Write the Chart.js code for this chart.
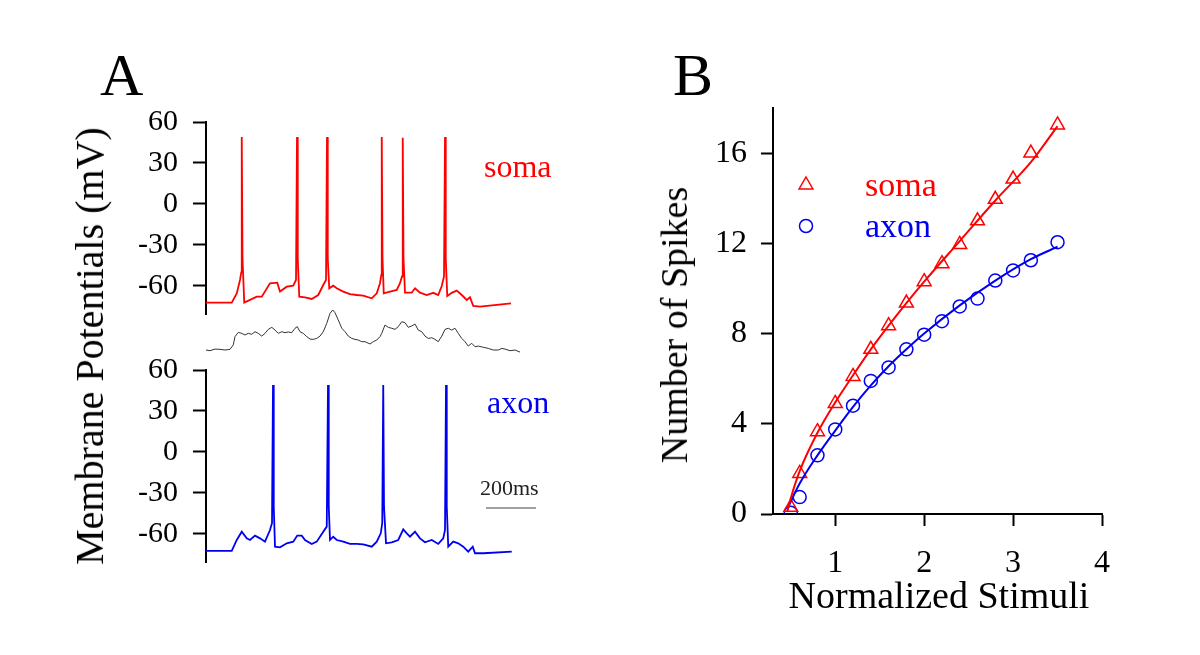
<!DOCTYPE html>
<html lang="en">
<head>
<meta charset="UTF-8">
<title>Soma and axon spikes</title>
<script src="https://cdn.jsdelivr.net/npm/chart.js"></script>
<style>
  body { margin: 0; background: #fff; }
  #page { position: relative; width: 1200px; height: 655px; overflow: hidden; background: #fff;
          font-family: 'Liberation Serif', 'Times New Roman', serif; color: #000; }
  #page canvas { position: absolute; left: 0; top: 0; }
  .lbl { position: absolute; line-height: 1; white-space: nowrap; }
  .rot { transform: translate(-50%, -50%) rotate(-90deg); }
</style>
</head>
<body>
<div id="page">
  <canvas id="somaChart" width="1200" height="655"></canvas>
  <canvas id="noiseChart" width="1200" height="655"></canvas>
  <canvas id="axonChart" width="1200" height="655"></canvas>
  <canvas id="spikeChart" width="1200" height="655"></canvas>

  <div class="lbl" style="left:100px;top:45px;font-size:60px">A</div>
  <div class="lbl" style="left:673px;top:45px;font-size:60px">B</div>
  <div class="lbl rot" style="left:90px;top:346px;font-size:40px">Membrane Potentials (mV)</div>
  <div class="lbl" style="left:484px;top:150px;font-size:32px;color:#ff0000">soma</div>
  <div class="lbl" style="left:487px;top:386px;font-size:32px;color:#0000f0">axon</div>
  <div class="lbl" style="left:480px;top:477px;font-size:22px;color:#222">200ms</div>
  <div class="lbl rot" style="left:674px;top:325px;font-size:38px">Number of Spikes</div>
  <div class="lbl" style="left:939px;top:576px;font-size:38px;transform:translateX(-50%)">Normalized Stimuli</div>
</div>

<script>
// ---- panel A: membrane potential traces (time in ms, potential in mV) ----
const somaTime = [
  0, 103, 123, 136, 141, 143, 146, 153, 176, 203,
  223, 256, 285, 296, 323, 349, 360, 364, 367, 373,
  396, 423, 449, 469, 480, 484, 487, 493, 509, 523,
  549, 576, 603, 629, 663, 683, 696, 701, 703, 706,
  711, 736, 763, 776, 784, 787, 790, 796, 823, 836,
  856, 883, 909, 929, 943, 952, 956, 959, 965, 983,
  1003, 1023, 1043, 1056, 1069, 1096, 1220
];
const somaMv = [
  -72.2, -72.2, -65.4, -55.6, -50, 49, -40, -72.2, -70.2, -67.8,
  -67.8, -58, -57.6, -64.1, -60.5, -59.8, -55.6, 49, -40, -67.8,
  -68.3, -69.5, -66.6, -59.3, -55.6, 49, -40, -61.7, -59.8, -61.7,
  -64.1, -65.9, -66.6, -67.1, -69, -65.4, -58, -52, 49, -40,
  -65.4, -64.1, -62.9, -58, -53, 48.5, -40, -64.9, -64.9, -61.7,
  -64.9, -66.6, -65, -66.6, -60, -53, 49, -40, -67.3, -65,
  -63.4, -66.6, -70.2, -68.3, -74.6, -75.1, -72.7
];

// unlabelled trace between the two panels (same mV scale, relative level)
const noiseTime = [
  0, 16, 36, 56, 76, 96, 109, 116, 129, 143,
  156, 169, 183, 196, 209, 223, 236, 249, 263, 276,
  289, 303, 316, 329, 343, 356, 365, 376, 389, 403,
  416, 429, 443, 456, 469, 483, 496, 507, 516, 529,
  543, 556, 569, 583, 596, 609, 623, 636, 656, 669,
  683, 696, 703, 716, 729, 743, 756, 769, 783, 796,
  809, 823, 836, 849, 863, 876, 889, 903, 916, 929,
  943, 956, 969, 983, 996, 1009, 1023, 1036, 1049, 1063,
  1076, 1089, 1109, 1129, 1149, 1169, 1183, 1196, 1216, 1236,
  1256
];
const noiseLevel = [
  0, -0.5, 0.7, 0.5, 0, 0.5, 3.7, 9.8, 12.9, 12.2,
  11, 12.2, 11.5, 13.4, 12.2, 10.2, 12.2, 15.1, 16.6, 14.6,
  12.2, 13.4, 12.7, 13.2, 12.7, 15.9, 17.1, 13.4, 12.2, 9.8,
  8, 7.8, 8.5, 10.2, 13.4, 19.5, 26.8, 29.3, 27.3, 22,
  15.9, 13.4, 10.2, 8.5, 7.8, 7.3, 6.1, 6.1, 4.4, 6.1,
  7.3, 9.8, 12.2, 18.3, 16.6, 15.9, 15.1, 17.1, 20.7, 20,
  16.6, 17.6, 19, 14.6, 13.4, 10.2, 8.5, 9, 7.8, 6.1,
  10.2, 15.1, 15.9, 14.6, 15.9, 12.2, 8.5, 6.1, 2.9, 4.9,
  2.4, 2.9, 2, 1.2, 0, 0, 1.2, 0.7, -0.5, 0,
  -1.5
];

const axonTime = [
  0, 103, 123, 143, 163, 176, 196, 216, 236, 256,
  264, 268, 271, 276, 296, 323, 349, 365, 383, 396,
  423, 443, 469, 483, 488, 491, 496, 509, 523, 549,
  576, 603, 629, 663, 683, 699, 705, 709, 712, 720,
  743, 769, 789, 803, 816, 836, 856, 876, 903, 929,
  949, 956, 960, 963, 969, 989, 1009, 1029, 1049, 1067,
  1076, 1109, 1223
];
const axonMv = [
  -72.4, -72.4, -64.4, -58.3, -63.2, -64.4, -61.2, -63.2, -65.6, -57.1,
  -52, 49, -40, -69.3, -69.8, -66.8, -65.6, -61.2, -61.2, -64.4,
  -67.3, -65.6, -58.3, -54.6, 49, -40, -64.4, -62, -64.4, -65.6,
  -67.3, -67.3, -67.6, -69.3, -65.6, -59.5, -52, 49, -40, -66.8,
  -66.1, -64.4, -56.6, -59.5, -62, -58.3, -63.2, -66.1, -64.4, -67.3,
  -63.2, -57.1, 49, -40, -69.3, -65.6, -66.8, -69.3, -72.9, -69.3,
  -74.1, -74.1, -72.9
];

// 200 ms scale bar
const scaleBarTime = [1120, 1320];
const scaleBarMv = [-41, -41];
const mvTicks = [-60, -30, 0, 30, 60];

// ---- panel B: spike count vs normalized stimulus ----
const stimuli = [0.5, 0.6, 0.8, 1.0, 1.2, 1.4, 1.6, 1.8, 2.0, 2.2, 2.4, 2.6, 2.8, 3.0, 3.2, 3.5];
const somaSpikes = [0.3, 1.8, 3.65, 4.9, 6.1, 7.3, 8.35, 9.35, 10.3, 11.1, 11.95, 13.0, 13.95, 14.85, 16.0, 17.25];
const axonSpikes = [0.05, 0.75, 2.6, 3.75, 4.8, 5.9, 6.5, 7.3, 7.95, 8.55, 9.2, 9.55, 10.35, 10.8, 11.25, 12.05];
const fitStimuli = [0.46, 0.5, 0.6, 0.8, 1.0, 1.2, 1.4, 1.6, 1.8, 2.0, 2.4, 2.8, 3.2, 3.5];
const somaFit = [0.1, 0.7, 1.9, 3.6, 4.95, 6.15, 7.3, 8.35, 9.35, 10.3, 12.1, 13.9, 15.6, 17.2];
const axonFit = [0.2, 0.55, 1.35, 2.6, 3.7, 4.75, 5.7, 6.55, 7.3, 8.0, 9.25, 10.35, 11.3, 11.85];
const spikeTicks = [0, 4, 8, 12, 16];
const stimTicks = [1, 2, 3, 4];

const RED = '#ff0000';
const BLUE = '#0000f0';
const SERIF = "'Liberation Serif', 'Times New Roman', serif";

const pts = (xs, ys) => xs.map((x, i) => ({ x: x, y: ys[i] }));

// plot boxes (pixels)
const A_LEFT = 206, A_RIGHT = 546, MS_PER_PX = 4;

function traceOptions(top, bottom, yMin, yMax, withAxis) {
  return {
    responsive: false,
    animation: false,
    events: [],
    // the y box is forced to 100px wide even when hidden
    layout: { padding: { left: A_LEFT - 100, right: 1200 - A_RIGHT, top: top, bottom: 655 - bottom } },
    plugins: { legend: { display: false }, tooltip: { enabled: false } },
    scales: {
      x: { type: 'linear', display: false, min: 0, max: (A_RIGHT - A_LEFT) * MS_PER_PX },
      y: {
        type: 'linear', display: withAxis, min: yMin, max: yMax,
        afterBuildTicks: s => { s.ticks = mvTicks.map(v => ({ value: v })); },
        afterFit: s => { s.width = 100; },
        grid: { drawOnChartArea: false, tickLength: 13, tickWidth: 2, tickColor: '#000' },
        border: { color: '#000', width: 2 },
        ticks: { color: '#000', padding: 15, font: { family: SERIF, size: 30 }, callback: v => String(v) }
      }
    }
  };
}

function traceSet(data, color, width) {
  return { data: data, borderColor: color, borderWidth: width, pointRadius: 0, tension: 0, fill: false };
}

new Chart(document.getElementById('somaChart'), {
  type: 'line',
  data: { datasets: [traceSet(pts(somaTime, somaMv), RED, 1.8)] },
  options: traceOptions(122, 314, -80.5, 60, true)
});

new Chart(document.getElementById('noiseChart'), {
  type: 'line',
  data: { datasets: [traceSet(pts(noiseTime, noiseLevel), '#333', 1)] },
  options: traceOptions(300, 360, -7.3, 36.6, false)
});

new Chart(document.getElementById('axonChart'), {
  type: 'line',
  data: { datasets: [
    traceSet(pts(axonTime, axonMv), BLUE, 1.8),
    traceSet(pts(scaleBarTime, scaleBarMv), '#808080', 1.5)
  ] },
  options: traceOptions(370, 562, -80.5, 60, true)
});

// legend inside panel B
const legendItems = [
  { label: 'soma', color: RED, style: 'triangle' },
  { label: 'axon', color: BLUE, style: 'circle' }
];
const spikeLegend = {
  id: 'spikeLegend',
  afterDraw(chart) {
    const ctx = chart.ctx, area = chart.chartArea;
    ctx.save();
    ctx.lineWidth = 1.5;
    ctx.font = '34px ' + SERIF;
    ctx.textBaseline = 'alphabetic';
    legendItems.forEach((item, i) => {
      const mx = area.left + 33, my = area.top + 77 + i * 41;
      ctx.strokeStyle = item.color;
      ctx.fillStyle = item.color;
      ctx.beginPath();
      if (item.style === 'triangle') {
        const r = 8;
        ctx.moveTo(mx, my - r);
        ctx.lineTo(mx + r * 0.866, my + r / 2);
        ctx.lineTo(mx - r * 0.866, my + r / 2);
        ctx.closePath();
      } else {
        ctx.arc(mx, my, 6.5, 0, Math.PI * 2);
      }
      ctx.stroke();
      ctx.fillText(item.label, area.left + 92, my + 11);
    });
    ctx.restore();
  }
};

const B_LEFT = 773, B_RIGHT = 1102, B_TOP = 108, B_BOTTOM = 514;

const axisStyle = {
  grid: { drawOnChartArea: false, tickLength: 12, tickWidth: 2, tickColor: '#000' },
  border: { color: '#000', width: 2 }
};

new Chart(document.getElementById('spikeChart'), {
  type: 'scatter',
  data: { datasets: [
    { data: pts(fitStimuli, somaFit), showLine: true, borderColor: RED, borderWidth: 2, pointRadius: 0, cubicInterpolationMode: 'monotone' },
    { data: pts(fitStimuli, axonFit), showLine: true, borderColor: BLUE, borderWidth: 2, pointRadius: 0, cubicInterpolationMode: 'monotone' },
    { data: pts(stimuli, somaSpikes), pointStyle: 'triangle', pointRadius: 8, borderColor: RED, backgroundColor: 'rgba(0,0,0,0)', borderWidth: 1.5 },
    { data: pts(stimuli, axonSpikes), pointStyle: 'circle', pointRadius: 6.5, borderColor: BLUE, backgroundColor: 'rgba(0,0,0,0)', borderWidth: 1.5 }
  ] },
  options: {
    responsive: false,
    animation: false,
    events: [],
    layout: { padding: { left: B_LEFT - 100, right: 1200 - B_RIGHT, top: B_TOP, bottom: 655 - B_BOTTOM - 60 } },
    plugins: { legend: { display: false }, tooltip: { enabled: false } },
    scales: {
      x: Object.assign({
        type: 'linear', min: 0.3, max: 4,
        afterBuildTicks: s => { s.ticks = stimTicks.map(v => ({ value: v })); },
        afterFit: s => { s.height = 60; },
        ticks: { color: '#000', padding: 18, maxRotation: 0, font: { family: SERIF, size: 32 }, callback: v => String(v) }
      }, axisStyle),
      y: Object.assign({
        type: 'linear', min: 0, max: 18,
        afterBuildTicks: s => { s.ticks = spikeTicks.map(v => ({ value: v })); },
        afterFit: s => { s.width = 100; },
        ticks: { color: '#000', padding: 14, font: { family: SERIF, size: 32 }, callback: v => String(v) }
      }, axisStyle)
    }
  },
  plugins: [spikeLegend]
});
</script>
</body>
</html>
